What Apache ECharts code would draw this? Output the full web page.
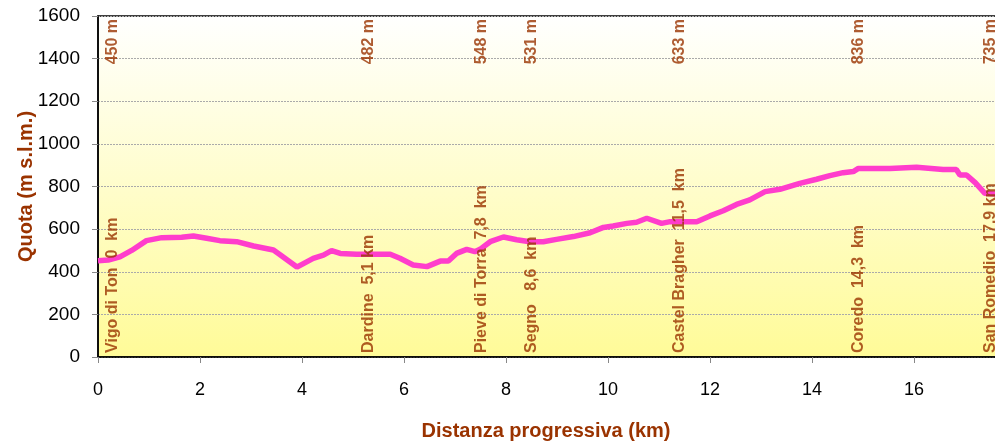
<!DOCTYPE html>
<html>
<head>
<meta charset="utf-8">
<script src="https://cdn.jsdelivr.net/npm/echarts@6/dist/echarts.min.js"></script>
<style>
  html, body { margin: 0; padding: 0; background: #fff; }
  #main { width: 995px; height: 445px; }
</style>
</head>
<body>
<div id="main"></div>
<script type="text/javascript">
    // profilo altimetrico (km, m s.l.m.)
    var dist = [0, 0.2, 0.43, 0.66, 0.95, 1.25, 1.64, 1.87, 2.13, 2.39, 2.72, 3.05, 3.44, 3.57, 3.9,
        4.22, 4.42, 4.58, 4.75, 5.07, 5.73, 5.92, 6.18, 6.45, 6.71, 6.87, 7.03, 7.23, 7.39, 7.49,
        7.69, 7.95, 8.21, 8.47, 8.73, 8.99, 9.32, 9.65, 9.91, 10.1, 10.37, 10.56, 10.76, 11.05,
        11.22, 11.74, 12.0, 12.26, 12.52, 12.78, 13.08, 13.37, 13.76, 14.09, 14.35, 14.61, 14.81,
        14.91, 15.53, 16.05, 16.57, 16.83, 16.9, 17.03, 17.2, 17.39, 17.59, 17.9];
    var elev = [452, 455, 470, 500, 546, 560, 562, 568, 557, 546, 541, 521, 502, 480, 422,
        463, 478, 499, 486, 482, 482, 463, 432, 424, 450, 450, 486, 505, 494, 505,
        541, 563, 550, 541, 541, 552, 565, 583, 608, 615, 627, 632, 651, 627,
        635, 635, 662, 686, 716, 737, 776, 787, 815, 834, 851, 865, 870,
        885, 885, 890, 880, 880, 854, 854, 818, 768, 765, 765];

    // località
    var stationNames = ['Vigo di Ton  0  km', 'Dardine  5,1 km', 'Pieve di Torra  7,8  km', 'Segno   8,6  km',
        'Castel Bragher  11,5  km', 'Coredo  14,3  km', 'San Romedio  17,9 km'];
    var stationElev = [450, 482, 548, 531, 633, 836, 735];
    var stationKm = [0.29, 5.3, 7.53, 8.5, 11.4, 14.92, 17.51];

    var yTicks = [0, 200, 400, 600, 800, 1000, 1200, 1400, 1600];

    var brown = '#9a3300';
    var font = "'Liberation Sans', Arial, sans-serif";

    var profile = dist.map(function (d, i) { return [d, elev[i]]; });
    var topLabels = stationKm.map(function (k, i) { return { value: [k, 1600], name: stationElev[i] + ' m' }; });
    var bottomLabels = stationKm.map(function (k, i) { return { value: [k, 0], name: stationNames[i] }; });

    var myChart = echarts.init(document.getElementById('main'));
    var myOption = {
        animation: false,
        grid: {
            left: 98, top: 16, width: 918, height: 341,
            outerBoundsMode: 'none',
            containLabel: false,
            show: true,
            borderColor: '#000',
            borderWidth: 1.5,
            backgroundColor: new echarts.graphic.LinearGradient(0, 0, 0, 1, [
                { offset: 0, color: '#ffffff' },
                { offset: 1, color: '#fffb98' }
            ])
        },
        xAxis: {
            type: 'value',
            min: 0, max: 18, interval: 2,
            name: 'Distanza progressiva (km)',
            nameLocation: 'middle',
            nameGap: 64,
            nameMoveOverlap: false,
            nameTextStyle: { color: brown, fontSize: 20, fontWeight: 'bold', fontFamily: font, padding: [0, 22, 0, 0] },
            axisLine: { lineStyle: { color: '#000', width: 1.5 } },
            axisTick: { show: true, length: 6, lineStyle: { color: '#888' } },
            axisLabel: { color: '#000', fontSize: 18, fontFamily: font, margin: 24 },
            splitLine: { show: false }
        },
        yAxis: {
            type: 'value',
            min: 0, max: 1600, interval: 200,
            name: 'Quota (m s.l.m.)',
            nameLocation: 'middle',
            nameGap: 62,
            nameMoveOverlap: false,
            nameTextStyle: { color: brown, fontSize: 20, fontWeight: 'bold', fontFamily: font },
            axisLine: { show: true, lineStyle: { color: '#000', width: 1.5 } },
            axisTick: { show: true, length: 6, lineStyle: { color: '#888' } },
            axisLabel: {
                color: '#000', fontSize: 19, fontFamily: font, margin: 18,
                formatter: function (v) { return yTicks.indexOf(v) >= 0 ? String(v) : ''; }
            },
            splitLine: { show: true, lineStyle: { color: '#aaa', width: 1, type: [2, 1] } }
        },
        series: [
            {
                type: 'line',
                data: profile,
                showSymbol: false,
                symbol: 'none',
                lineStyle: { color: '#ff3dcc', width: 5.5 },
                z: 2
            },
            {
                type: 'scatter',
                data: topLabels,
                symbolSize: 1,
                itemStyle: { color: 'rgba(0,0,0,0)' },
                label: {
                    show: true, position: 'inside', rotate: 90,
                    align: 'right', verticalAlign: 'middle', offset: [-3, 0],
                    formatter: '{b}', color: brown, fontSize: 16, fontWeight: 'bold', fontFamily: font
                },
                z: 5
            },
            {
                type: 'scatter',
                data: bottomLabels,
                symbolSize: 1,
                itemStyle: { color: 'rgba(0,0,0,0)' },
                label: {
                    show: true, position: 'inside', rotate: 90,
                    align: 'left', verticalAlign: 'middle', offset: [4, 0],
                    formatter: '{b}', color: brown, fontSize: 16, fontWeight: 'bold', fontFamily: font
                },
                z: 5
            }
        ]
    };
    myChart.setOption(myOption);
</script>
</body>
</html>
